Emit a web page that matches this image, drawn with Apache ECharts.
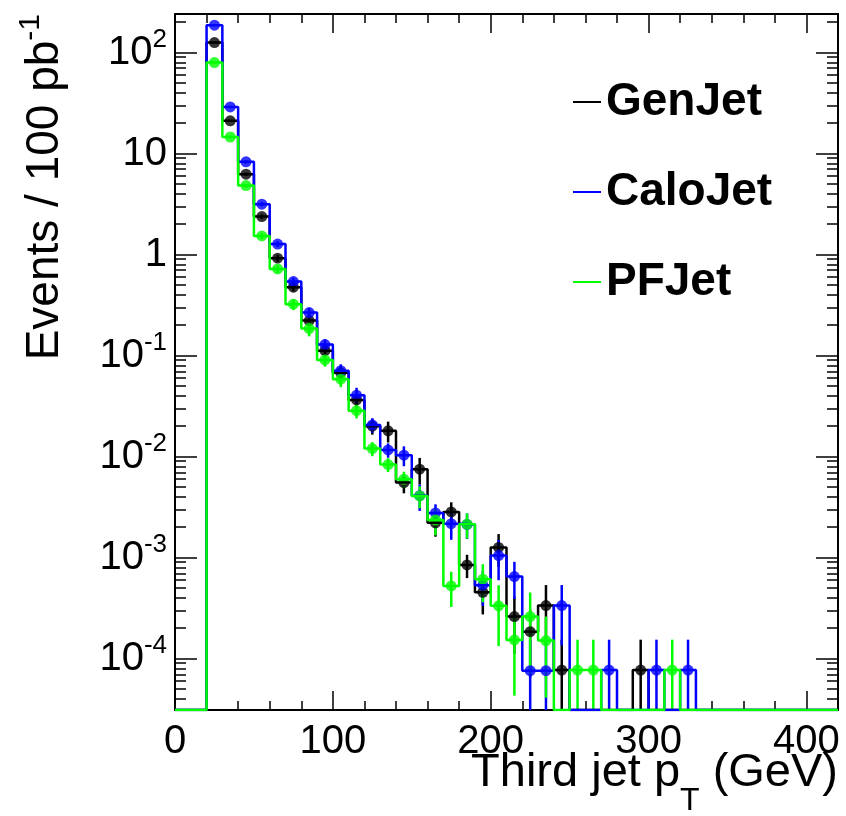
<!DOCTYPE html>
<html>
<head>
<meta charset="utf-8">
<script src="https://cdn.jsdelivr.net/npm/echarts@6/dist/echarts.min.js"></script>
<style>
  html, body { margin: 0; padding: 0; background: #fff; }
  #chart { width: 846px; height: 816px; }
</style>
</head>
<body>
<div id="chart"></div>
<script>
// histogram bins (lower edge, GeV), 10 GeV wide; bins outside this list are empty
const binLow = [20, 30, 40, 50, 60, 70, 80, 90, 100, 110, 120, 130, 140, 150, 160,
  170, 180, 190, 200, 210, 220, 230, 240, 250, 260, 270, 280, 290, 300, 310, 320]
const binWidth = 10

const genJet = [125.6, 21.1, 6.25, 2.38, 0.921, 0.476, 0.222, 0.112, 0.0675, 0.0364, 0.0200,
  0.0180, 0.00553, 0.0075, 0.00221, 0.00283, 0.000847, 0.000454, 0.00126, 0.000261, 0.000185,
  0.000335, 0.000077, 0, 0, 0, 0, 0.000077, 0, 0, 0]
const genJetErr = [1.5, 0.5, 0.25, 0.13, 0.07, 0.045, 0.025, 0.015, 0.01, 0.006, 0.0035,
  0.0042, 0.0012, 0.0022, 0.0006, 0.0007, 0.00022, 0.00018, 0.00045, 0.00015, 0.00012,
  0.0002, 0.000077, 0, 0, 0, 0, 0.000077, 0, 0, 0]

const caloJet = [186.6, 29.0, 8.28, 3.16, 1.27, 0.541, 0.2667, 0.1285, 0.0710, 0.0405, 0.0206,
  0.01164, 0.01033, 0.0041, 0.00277, 0.00217, 0.00213, 0.000533, 0.001047, 0.000649, 0.000076,
  0.000076, 0.000335, 0, 0, 0.000077, 0, 0, 0.000077, 0, 0.000077]
const caloJetErr = [2, 0.6, 0.3, 0.15, 0.08, 0.05, 0.028, 0.016, 0.011, 0.0075, 0.0034,
  0.0019, 0.0023, 0.0012, 0.0006, 0.00067, 0.0006, 0.0002, 0.00045, 0.00026, 0.000076,
  0.000076, 0.0002, 0, 0, 0.000077, 0, 0, 0.000077, 0, 0.000077]

const pfJet = [79.6, 14.6, 4.82, 1.53, 0.722, 0.323, 0.185, 0.0907, 0.0584, 0.0285, 0.0120,
  0.00834, 0.00598, 0.00408, 0.00236, 0.000525, 0.00214, 0.000611, 0.000333, 0.000153, 0.000261,
  0.000151, 0, 0.000077, 0.000077, 0, 0, 0, 0, 0.000077, 0]
const pfJetErr = [1.2, 0.4, 0.2, 0.1, 0.06, 0.04, 0.03, 0.013, 0.0097, 0.0046, 0.0019,
  0.0013, 0.0011, 0.001, 0.0007, 0.0002, 0.0006, 0.00025, 0.0002, 0.00011, 0.00019,
  0.00011, 0, 0.000077, 0.000077, 0, 0, 0, 0, 0.000077, 0]

const xMin = 0, xMax = 420
const yMin = 3.1e-5, yMax = 241

const FONT = "'Liberation Sans', Arial, Helvetica, sans-serif"
const jets = [
  { name: 'GenJet', color: '#000000', values: genJet, errs: genJetErr },
  { name: 'CaloJet', color: '#0000ff', values: caloJet, errs: caloJetErr },
  { name: 'PFJet', color: '#00ff00', values: pfJet, errs: pfJetErr }
]

function stepData(values) {
  const pts = [[xMin, yMin]]
  values.forEach((v, i) => pts.push([binLow[i], v > 0 ? v : yMin]))
  pts.push([binLow[binLow.length - 1] + binWidth, yMin])
  pts.push([xMax, yMin])
  return pts
}

function pointData(values, errs) {
  const out = []
  values.forEach((v, i) => {
    if (v > 0) out.push([binLow[i] + binWidth / 2, v, errs[i]])
  })
  return out
}

function powLabel(v) {
  const e = Math.round(Math.log10(v))
  if (e === 0) return '1'
  if (e === 1) return '10'
  return '10{sup|' + e + '}'
}

const series = []
jets.forEach((j) => {
  series.push({
    name: j.name,
    type: 'line',
    step: 'end',
    data: stepData(j.values),
    showSymbol: false,
    color: j.color,
    lineStyle: { color: j.color, width: 2.5 },
    animation: false
  })
  series.push({
    name: j.name + ' err',
    type: 'custom',
    data: pointData(j.values, j.errs),
    encode: { x: 0, y: 1 },
    renderItem(params, api) {
      const x = api.value(0), v = api.value(1), e = api.value(2)
      const p1 = api.coord([x, Math.max(v - e, yMin)])
      const p2 = api.coord([x, v + e])
      return {
        type: 'line',
        shape: { x1: p1[0], y1: p1[1], x2: p2[0], y2: p2[1] },
        style: { stroke: j.color, lineWidth: 2.5 }
      }
    },
    animation: false
  })
  series.push({
    name: j.name + ' pts',
    type: 'scatter',
    data: pointData(j.values, j.errs),
    symbol: 'circle',
    symbolSize: 11,
    itemStyle: { color: j.color },
    animation: false
  })
})

// y axes: main labelled log axis on the left, mirror on the right,
// plus shifted copies that put their decade ticks at 2..9 x 10^k (minor ticks)
const yTick = (len) => ({ show: true, inside: true, length: len, lineStyle: { color: '#000', width: 1.5 } })
const yAxes = [
  {
    type: 'log', min: yMin, max: yMax, splitNumber: 7, position: 'left',
    axisLine: { show: true, onZero: false, lineStyle: { color: '#000', width: 2 } },
    axisTick: yTick(22),
    splitLine: { show: false },
    axisLabel: {
      show: true, margin: 8, color: '#000', fontSize: 40, fontFamily: FONT,
      showMinLabel: false, showMaxLabel: false,
      formatter: powLabel,
      rich: { sup: { fontSize: 26, fontFamily: FONT, color: '#000', padding: [0, 0, 26, 0] } }
    }
  },
  {
    type: 'log', min: yMin, max: yMax, splitNumber: 7, position: 'right',
    axisLine: { show: true, onZero: false, lineStyle: { color: '#000', width: 2 } },
    axisTick: yTick(22),
    splitLine: { show: false },
    axisLabel: { show: false }
  }
]
;[2, 3, 4, 5, 6, 7, 8, 9].forEach((m) => {
  ;['left', 'right'].forEach((pos) => {
    yAxes.push({
      type: 'log', min: yMin / m, max: yMax / m, position: pos,
      axisLine: { show: false, onZero: false },
      axisLabel: { show: false },
      splitLine: { show: false },
      axisTick: yTick(11)
    })
  })
})

const xBase = {
  type: 'value', min: xMin, max: xMax, interval: 100,
  axisLine: { show: true, onZero: false, lineStyle: { color: '#000', width: 2 } },
  axisTick: { show: true, inside: true, length: 19, lineStyle: { color: '#000', width: 1.5 } },
  minorTick: { show: true, splitNumber: 5, length: 9, lineStyle: { color: '#000', width: 1.5 } },
  splitLine: { show: false },
  minorSplitLine: { show: false }
}

const option = {
  backgroundColor: '#fff',
  animation: false,
  grid: { left: 175, right: 8, top: 14, bottom: 106, containLabel: false },
  xAxis: [
    Object.assign({}, xBase, {
      position: 'bottom',
      axisLabel: { show: true, margin: 12, color: '#000', fontSize: 40, fontFamily: FONT, showMaxLabel: false }
    }),
    Object.assign({}, xBase, { position: 'top', axisLabel: { show: false } })
  ],
  yAxis: yAxes,
  legend: {
    orient: 'vertical', left: 568, top: 74, itemGap: 44,
    itemWidth: 28, itemHeight: 2, icon: 'rect', selectedMode: false,
    data: jets.map((j) => j.name),
    textStyle: { fontSize: 46, fontWeight: 'bold', fontFamily: FONT, color: '#000' }
  },
  graphic: [
    {
      type: 'text', x: 45, y: 14, rotation: Math.PI / 2,
      style: {
        text: '{a|Events / 100 pb}{sup|-1}',
        align: 'right', verticalAlign: 'middle',
        rich: {
          a: { fontSize: 46, fontFamily: FONT, fill: '#000' },
          sup: { fontSize: 30, fontFamily: FONT, fill: '#000', padding: [0, 0, 28, 0] }
        }
      }
    },
    {
      type: 'text', x: 838, y: 773,
      style: {
        text: '{a|Third jet p}{sub|T}{a| (GeV)}',
        align: 'right', verticalAlign: 'middle',
        rich: {
          a: { fontSize: 47, fontFamily: FONT, fill: '#000' },
          sub: { fontSize: 32, fontFamily: FONT, fill: '#000', padding: [56, 0, 0, 0] }
        }
      }
    }
  ],
  series: series
}

const chart = echarts.init(document.getElementById('chart'))
chart.setOption(option)
</script>
</body>
</html>
